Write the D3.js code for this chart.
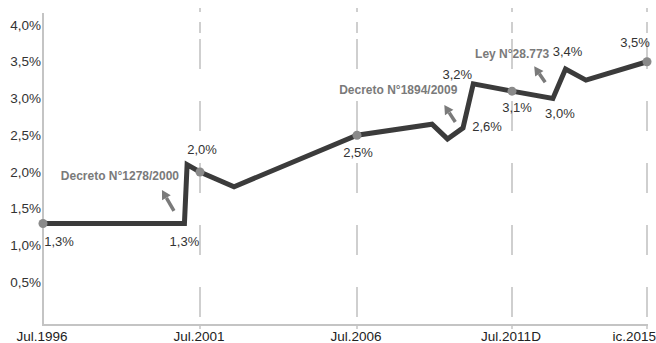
<!DOCTYPE html>
<html>
<head>
<meta charset="utf-8">
<script src="https://cdn.jsdelivr.net/npm/d3@7"></script>
<style>
  html, body { margin: 0; padding: 0; background: #fff; }
  svg { display: block; font-family: "Liberation Sans", Arial, sans-serif; }
</style>
</head>
<body>
<svg id="chart" width="656" height="343"></svg>
<script>
// Series: rate by month
const months = ["1996-07", "2001-01", "2001-02", "2001-07", "2002-08", "2006-07", "2008-12",
                "2009-06", "2009-12", "2010-04", "2011-07", "2012-11", "2013-04", "2013-12", "2015-12"];
const rates  = [1.3, 1.3, 2.1, 2.0, 1.8, 2.5, 2.65, 2.45, 2.6, 3.2, 3.1, 3.0, 3.4, 3.25, 3.5];

// Highlighted points (dots) on the line
const markerIdx = [0, 3, 5, 10, 14];

// Value labels: index into the series
const labelIdx = [0, 1, 3, 5, 9, 8, 10, 11, 12, 14];

// X axis ticks and their labels
const xTickMonths = ["1996-07", "2001-07", "2006-07", "2011-07", "2015-12"];
const xTickLabels = ["Jul.1996", "Jul.2001", "Jul.2006", "Jul.2011D", "ic.2015"];

// Y axis ticks
const yTicks = [0.5, 1.0, 1.5, 2.0, 2.5, 3.0, 3.5, 4.0];

// Regulation notes: text and the month/value the arrow starts from
const noteTexts  = ["Decreto N°1278/2000", "Decreto N°1894/2009", "Ley N°28.773"];
const noteMonths = ["2000-09", "2009-09", "2012-08"];
const noteValues = [1.47, 2.68, 3.22];

const parse = d3.timeParse("%Y-%m");
const fmt = v => d3.format(".1f")(v).replace(".", ",") + "%";

const svg = d3.select("#chart");

const x = d3.scaleTime()
  .domain(xTickMonths.map(parse))
  .range([43, 200, 357, 512, 647]);

const y = d3.scaleLinear().domain([0, 4]).range([319, 25]);

const axisY = 325;
const gridColor = "#c4c4c4";

// Dashed vertical guides at the inner ticks and the last one
xTickMonths.slice(1).forEach(m => {
  const xp = x(parse(m));
  svg.append("line")
    .attr("x1", xp).attr("x2", xp)
    .attr("y1", 317).attr("y2", 8)
    .attr("stroke", gridColor)
    .attr("stroke-width", 1.6)
    .attr("stroke-dasharray", "30,32,30,32,30,32,30,32,30,6,11,10,4,400");
});

// Axis lines
svg.append("line")
  .attr("x1", 43).attr("x2", 43).attr("y1", 13).attr("y2", axisY + 1)
  .attr("stroke", gridColor).attr("stroke-width", 2);
svg.append("line")
  .attr("x1", 42).attr("x2", 648).attr("y1", axisY).attr("y2", axisY)
  .attr("stroke", gridColor).attr("stroke-width", 2);

// Small tick marks below the x axis
xTickMonths.slice(1).forEach(m => {
  const xp = x(parse(m));
  svg.append("line")
    .attr("x1", xp).attr("x2", xp).attr("y1", axisY).attr("y2", axisY + 4)
    .attr("stroke", gridColor).attr("stroke-width", 1.5);
});

// Y tick labels
svg.append("g").selectAll("text")
  .data(yTicks).join("text")
  .attr("x", 41)
  .attr("y", d => y(d))
  .attr("dy", "0.35em")
  .attr("text-anchor", "end")
  .attr("font-size", 13.5)
  .attr("fill", "#333")
  .text(d => fmt(d));

// X tick labels
svg.append("g").selectAll("text")
  .data(xTickLabels).join("text")
  .attr("x", (d, i) => i === xTickLabels.length - 1 ? 656 : x(parse(xTickMonths[i])) - 1)
  .attr("y", 341)
  .attr("text-anchor", (d, i) => i === xTickLabels.length - 1 ? "end" : "middle")
  .attr("font-size", 13.5)
  .attr("fill", "#222")
  .text(d => d);

// Line
const pts = months.map((m, i) => ({ date: parse(m), value: rates[i] }));
const line = d3.line().x(d => x(d.date)).y(d => y(d.value));
svg.append("path")
  .datum(pts)
  .attr("d", line)
  .attr("fill", "none")
  .attr("stroke", "#3b3b3b")
  .attr("stroke-width", 5)
  .attr("stroke-linejoin", "miter")
  .attr("stroke-miterlimit", 10);

// Dots
svg.append("g").selectAll("circle")
  .data(markerIdx.map(i => pts[i])).join("circle")
  .attr("cx", d => x(d.date))
  .attr("cy", d => y(d.value))
  .attr("r", 4.5)
  .attr("fill", "#8a8a8a");

// Value labels, offset from their point
const labelOffsets = [[16, 18], [0, 18], [2, -23], [1, 17], [-16, -9], [24, -1], [5, 16], [7, 15], [2, -18], [-12, -19]];
svg.append("g").selectAll("text")
  .data(labelIdx).join("text")
  .attr("x", (d, k) => x(pts[d].date) + labelOffsets[k][0])
  .attr("y", (d, k) => y(pts[d].value) + labelOffsets[k][1])
  .attr("dy", "0.35em")
  .attr("text-anchor", "middle")
  .attr("font-size", 13)
  .attr("fill", "#333")
  .text(d => fmt(pts[d].value));

// Notes with arrows
const noteTextOffsets = [[-54, -35], [-57, -32], [-33, -29]];
const noteArrowVectors = [[-12, -21], [-11, -17], [-11, -16]];
const noteColor = "#7a7a7a";
noteTexts.forEach((t, i) => {
  const tx = x(parse(noteMonths[i]));
  const ty = y(noteValues[i]);
  const [vx, vy] = noteArrowVectors[i];
  const len = Math.hypot(vx, vy);
  const ux = vx / len, uy = vy / len;
  const head = 9, half = 5;
  const bx = tx + vx - ux * head, by = ty + vy - uy * head;
  svg.append("line")
    .attr("x1", tx).attr("y1", ty).attr("x2", bx).attr("y2", by)
    .attr("stroke", noteColor).attr("stroke-width", 3.5);
  svg.append("path")
    .attr("d", `M${tx + vx},${ty + vy}L${bx - uy * half},${by + ux * half}L${bx + uy * half},${by - ux * half}Z`)
    .attr("fill", noteColor);
  svg.append("text")
    .attr("x", tx + noteTextOffsets[i][0])
    .attr("y", ty + noteTextOffsets[i][1])
    .attr("dy", "0.35em")
    .attr("text-anchor", "middle")
    .attr("font-size", 12)
    .attr("font-weight", "bold")
    .attr("fill", noteColor)
    .text(t);
});
</script>
</body>
</html>
